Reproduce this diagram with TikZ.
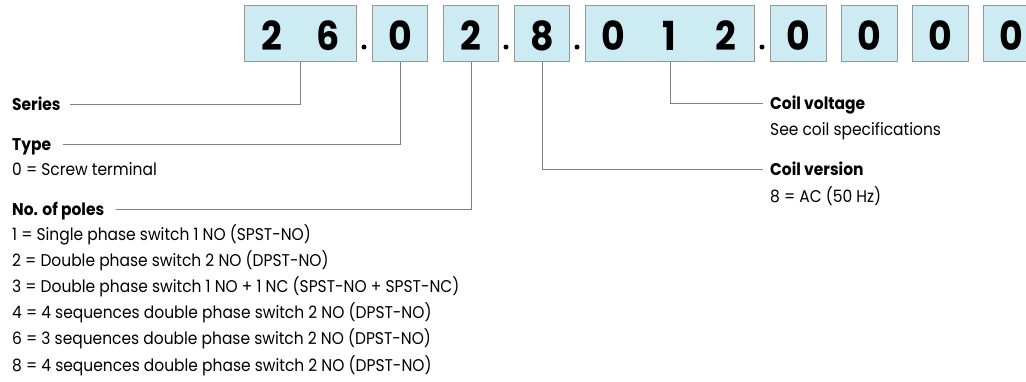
\documentclass[tikz,border=0pt]{standalone}
\usepackage{fontspec}
\setmainfont{Poppins}[FakeStretch=0.91]
\definecolor{boxfill}{RGB}{205,235,242}
\definecolor{boxgray}{RGB}{150,150,150}
\definecolor{linegray}{RGB}{130,130,130}
\begin{document}
\begin{tikzpicture}[x=1pt,y=-1pt,
  digbox/.style={draw=boxgray, fill=boxfill, line width=0.9pt, minimum height=56pt, inner sep=0pt, anchor=north west},
  conn/.style={draw=linegray, line width=0.9pt},
  head/.style={font=\fontsize{17}{20}\selectfont\bfseries, anchor=base west, inner sep=0pt, text height=12pt, text depth=0pt},
  body/.style={font=\fontsize{17}{20}\selectfont, anchor=base west, inner sep=0pt},
  dig/.style={font=\fontsize{40}{40}\selectfont\bfseries, anchor=base, inner sep=0pt},
  sepdot/.style={circle, fill=black, inner sep=0pt, minimum size=5pt}]
\clip (0,0) rectangle (1026,381);
% boxes
\node[digbox, minimum width=112pt] (b1) at (244,5) {};
\node[digbox, minimum width=55pt] (b2) at (372,5) {};
\node[digbox, minimum width=55pt] (b3) at (443,5) {};
\node[digbox, minimum width=55pt] (b4) at (514,5) {};
\node[digbox, minimum width=169pt] (b5) at (585,5) {};
\node[digbox, minimum width=56pt] (b6) at (770,5) {};
\node[digbox, minimum width=56pt] (b7) at (841,5) {};
\node[digbox, minimum width=56pt] (b8) at (912,5) {};
\node[digbox, minimum width=56pt] (b9) at (983,5) {};
% digits
\node[dig] (d1a) at (272,50) {2};
\node[dig] (d1b) at (328,50) {6};
\node[dig] (d2) at (b2.center |- 0,50) {0};
\node[dig] (d3) at (b3.center |- 0,50) {2};
\node[dig] (d4) at (b4.center |- 0,50) {8};
\node[dig] (d5a) at (613,50) {0};
\node[dig] (d5b) at (669,50) {1};
\node[dig] (d5c) at (726,50) {2};
\node[dig] (d6) at (b6.center |- 0,50) {0};
\node[dig] (d7) at (b7.center |- 0,50) {0};
\node[dig] (d8) at (b8.center |- 0,50) {0};
\node[dig] (d9) at (1011,50) {0};
% separator dots
\node[sepdot] (p1) at (364,47) {};
\node[sepdot] (p2) at (506,47) {};
\node[sepdot] (p3) at (577,47) {};
\node[sepdot] (p4) at (762,47) {};
% left labels
\node[head] (series) at (12,110) {Series};
\node[head] (type) at (12,150) {Type};
\node[body] (typeval) at (12,175) {0 = Screw terminal};
\node[head] (poles) at (12,215) {No. of poles};
\node[body] (pl1) at (12,240) {1 = Single phase switch 1 NO (SPST-NO)};
\node[body] (pl2) at (12,266.2) {2 = Double phase switch 2 NO (DPST-NO)};
\node[body] (pl3) at (12,292.4) {3 = Double phase switch 1 NO + 1 NC (SPST-NO + SPST-NC)};
\node[body] (pl4) at (12,318.6) {4 = 4 sequences double phase switch 2 NO (DPST-NO)};
\node[body] (pl6) at (12,344.8) {6 = 3 sequences double phase switch 2 NO (DPST-NO)};
\node[body] (pl8) at (12,371) {8 = 4 sequences double phase switch 2 NO (DPST-NO)};
% right labels
\node[head] (cvolt) at (770,109) {Coil voltage};
\node[body] (cvoltval) at (770,135) {See coil specifications};
\node[head] (cvers) at (770,175) {Coil version};
\node[body] (cversval) at (770,202) {8 = AC (50 Hz)};
% connectors
\draw[conn] (b1.south) |- ([xshift=9pt]series.east);
\draw[conn] (b2.south) |- ([xshift=12pt]type.east);
\draw[conn] (b3.south) |- ([xshift=12pt]poles.east);
\draw[conn] (b5.south) |- ([xshift=-7pt]cvolt.west);
\draw[conn] (b4.south) |- ([xshift=-7pt]cvers.west);
\end{tikzpicture}
\end{document}
